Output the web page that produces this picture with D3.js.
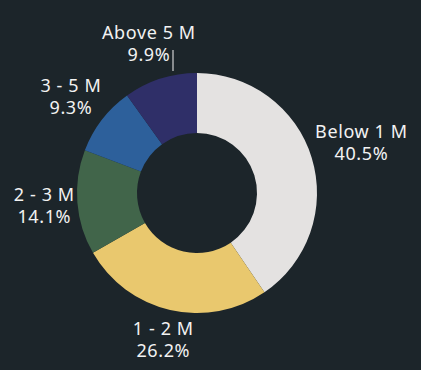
<!DOCTYPE html>
<html>
<head>
<meta charset="utf-8">
<script src="https://cdn.jsdelivr.net/npm/d3@7"></script>
<style>
	body { margin: 0; background: #1c252a; }
	text { font-family: 'Noto Sans', sans-serif; }
</style>
</head>
<body>
<div id="donut"></div>
<script>
const categories = ['Below 1 M', '1 - 2 M', '2 - 3 M', '3 - 5 M', 'Above 5 M']
const shares = [40.5, 26.2, 14.1, 9.3, 9.9]
const colors = ['#e4e2e1', '#e9c86e', '#41654a', '#2d609b', '#2f2f68']

const width = 421, height = 370
const cx = 197, cy = 193
const outer = 120, inner = 60

const data = categories.map((c, i) => ({ name: c, value: shares[i], color: colors[i] }))

let svg = d3.select('#donut')
	.append('svg')
	.attr('width', width)
	.attr('height', height)
	.style('background', '#1c252a')

let g = svg.append('g').attr('transform', `translate(${cx},${cy})`)

let pie = d3.pie().value(d => d.value).sort(null)
let arc = d3.arc().innerRadius(inner).outerRadius(outer)

const arcs = pie(data)

g.selectAll('path')
	.data(arcs)
	.join('path')
	.attr('d', arc)
	.attr('fill', d => d.data.color)

// labels: two lines, pushed out so the box sits just outside the ring
let labels = g.selectAll('g.label')
	.data(arcs)
	.join('g')
	.attr('class', 'label')

labels.append('text')
	.attr('text-anchor', 'middle')
	.attr('fill', '#f2f2f2')
	.attr('font-size', 18)
	.attr('letter-spacing', 0.6)
	.selectAll('tspan')
	.data(d => [d.data.name, d3.format('.1f')(d.data.value) + '%'])
	.join('tspan')
	.attr('x', 0)
	.attr('y', (d, i) => i * 22 - 5)
	.text(d => d)

labels.each(function(d) {
	const box = this.getBBox()
	const a = (d.startAngle + d.endAngle) / 2
	const s = Math.sin(a), c = -Math.cos(a)
	const ext = (box.width / 2) * Math.abs(s) + (box.height / 2) * Math.abs(c)
	const r = outer + 1 + ext
	const ox = box.x + box.width / 2, oy = box.y + box.height / 2
	d3.select(this).attr('transform', `translate(${r * s - ox},${r * c - oy})`)
})

// thin caret next to the top label
svg.append('line')
	.attr('x1', 173).attr('x2', 173)
	.attr('y1', 50).attr('y2', 71)
	.attr('stroke', '#f2f2f2')
	.attr('stroke-width', 1)
</script>
</body>
</html>
